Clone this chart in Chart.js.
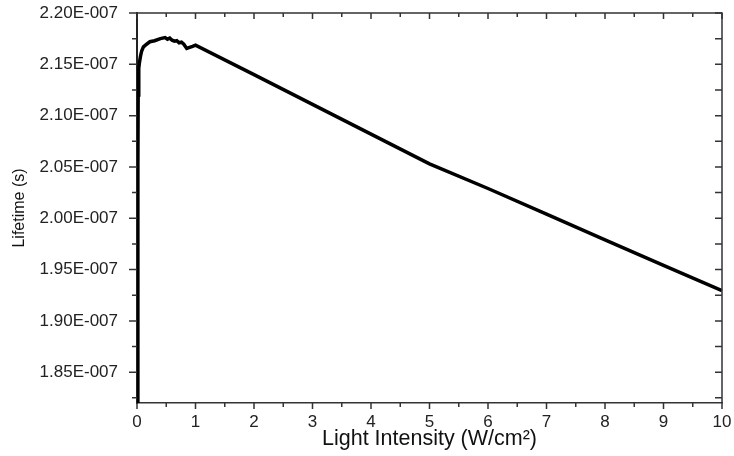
<!DOCTYPE html>
<html>
<head>
<meta charset="utf-8">
<script src="https://cdn.jsdelivr.net/npm/chart.js@4.4.0/dist/chart.umd.min.js"></script>
<style>
  html, body { margin: 0; padding: 0; background: #fff; }
  #wrap { width: 734px; height: 456px; }
</style>
</head>
<body>
<div id="wrap"><canvas id="c"></canvas></div>
<script>
// light intensity (W/cm2)
const intensity = [0.008, 0.015, 0.02, 0.03, 0.04, 0.06, 0.08, 0.11, 0.15, 0.22, 0.3, 0.4, 0.48,
  0.52, 0.56, 0.6, 0.64, 0.68, 0.72, 0.76, 0.8, 0.85, 0.9, 0.95, 1.0,
  2, 3, 4, 5, 6, 7, 8, 9, 10];
// lifetime, in units of 1E-007 s
const lifetime = [1.82, 2.05, 2.12, 2.146, 2.151, 2.158, 2.163, 2.167, 2.169, 2.172, 2.173, 2.175, 2.176,
  2.1745, 2.1755, 2.1735, 2.1725, 2.173, 2.171, 2.1715, 2.1695, 2.1655, 2.1665, 2.1675, 2.1686,
  2.140, 2.111, 2.082, 2.053, 2.029, 2.004, 1.979, 1.954, 1.9295];

const yMin = 1.82e-7, yMax = 2.20e-7;
const xTicks = [0, 1, 2, 3, 4, 5, 6, 7, 8, 9, 10];

const points = intensity.map((x, i) => ({ x: x, y: lifetime[i] * 1e-7 }));

// box + tick marks, origin style
const frameTicks = {
  id: 'frameTicks',
  afterDraw(chart) {
    const ctx = chart.ctx, a = chart.chartArea;
    const xs = chart.scales.x, ys = chart.scales.y;
    ctx.save();
    ctx.strokeStyle = '#333';
    ctx.lineWidth = 1.5;
    ctx.beginPath();
    ctx.moveTo(a.left, a.top); ctx.lineTo(a.right, a.top); ctx.lineTo(a.right, a.bottom);
    ctx.stroke();
    ctx.beginPath();
    for (let v = 0; v <= 10.001; v += 0.5) {
      const px = xs.getPixelForValue(v);
      const major = Math.abs(v - Math.round(v)) < 1e-6;
      const len = major ? 6 : 4;
      ctx.moveTo(px, a.bottom); ctx.lineTo(px, a.bottom + len);
      ctx.moveTo(px, a.top); ctx.lineTo(px, a.top + len);
    }
    for (let k = 0; k <= 15; k++) {
      const v = 1.825e-7 + k * 0.025e-7;
      if (v > yMax + 1e-12) break;
      const py = ys.getPixelForValue(v);
      const major = k % 2 === 1;
      ctx.moveTo(a.left, py); ctx.lineTo(a.left - (major ? 8 : 5), py);
      ctx.moveTo(a.right, py); ctx.lineTo(a.right - 7, py);
    }
    ctx.stroke();
    ctx.restore();
  }
};

new Chart(document.getElementById('c'), {
  type: 'line',
  data: {
    datasets: [{
      data: points,
      borderColor: '#000',
      borderWidth: 3.5,
      pointRadius: 0,
      tension: 0,
      fill: false
    }]
  },
  options: {
    responsive: true,
    maintainAspectRatio: false,
    animation: false,
    layout: { padding: { top: 13, right: 12, left: 0, bottom: 0 } },
    plugins: { legend: { display: false }, tooltip: { enabled: false } },
    scales: {
      x: {
        type: 'linear',
        min: 0, max: 10,
        afterBuildTicks: (s) => { s.ticks = xTicks.map(v => ({ value: v })); },
        afterFit: (s) => { s.height = 53; s.paddingLeft = 0; s.paddingRight = 0; },
        grid: { display: false },
        border: { display: true, color: '#333', width: 1.5 },
        ticks: {
          color: '#222', padding: 1,
          font: { family: 'Liberation Sans', size: 17 },
          maxRotation: 0
        },
        title: {
          display: true,
          text: 'Light Intensity (W/cm²)',
          color: '#111',
          font: { family: 'Liberation Sans', size: 21.5 },
          padding: { top: 0, bottom: 4 }
        }
      },
      y: {
        min: yMin, max: yMax,
        afterBuildTicks: (s) => {
          const t = [];
          for (let k = 0; k <= 7; k++) t.push({ value: 1.85e-7 + k * 0.05e-7 });
          s.ticks = t;
        },
        afterFit: (s) => { s.width = 137; s.paddingTop = 0; s.paddingBottom = 0; },
        grid: { display: false },
        border: { display: true, color: '#222', width: 2 },
        ticks: {
          color: '#222', padding: 11,
          font: { family: 'Liberation Sans', size: 17 },
          callback: (v) => (v / 1e-7).toFixed(2) + 'E-007'
        },
        title: {
          display: true,
          text: 'Lifetime (s)',
          color: '#111',
          font: { family: 'Liberation Sans', size: 16 },
          padding: { top: 10, bottom: 0 }
        }
      }
    }
  },
  plugins: [frameTicks]
});
</script>
</body>
</html>
